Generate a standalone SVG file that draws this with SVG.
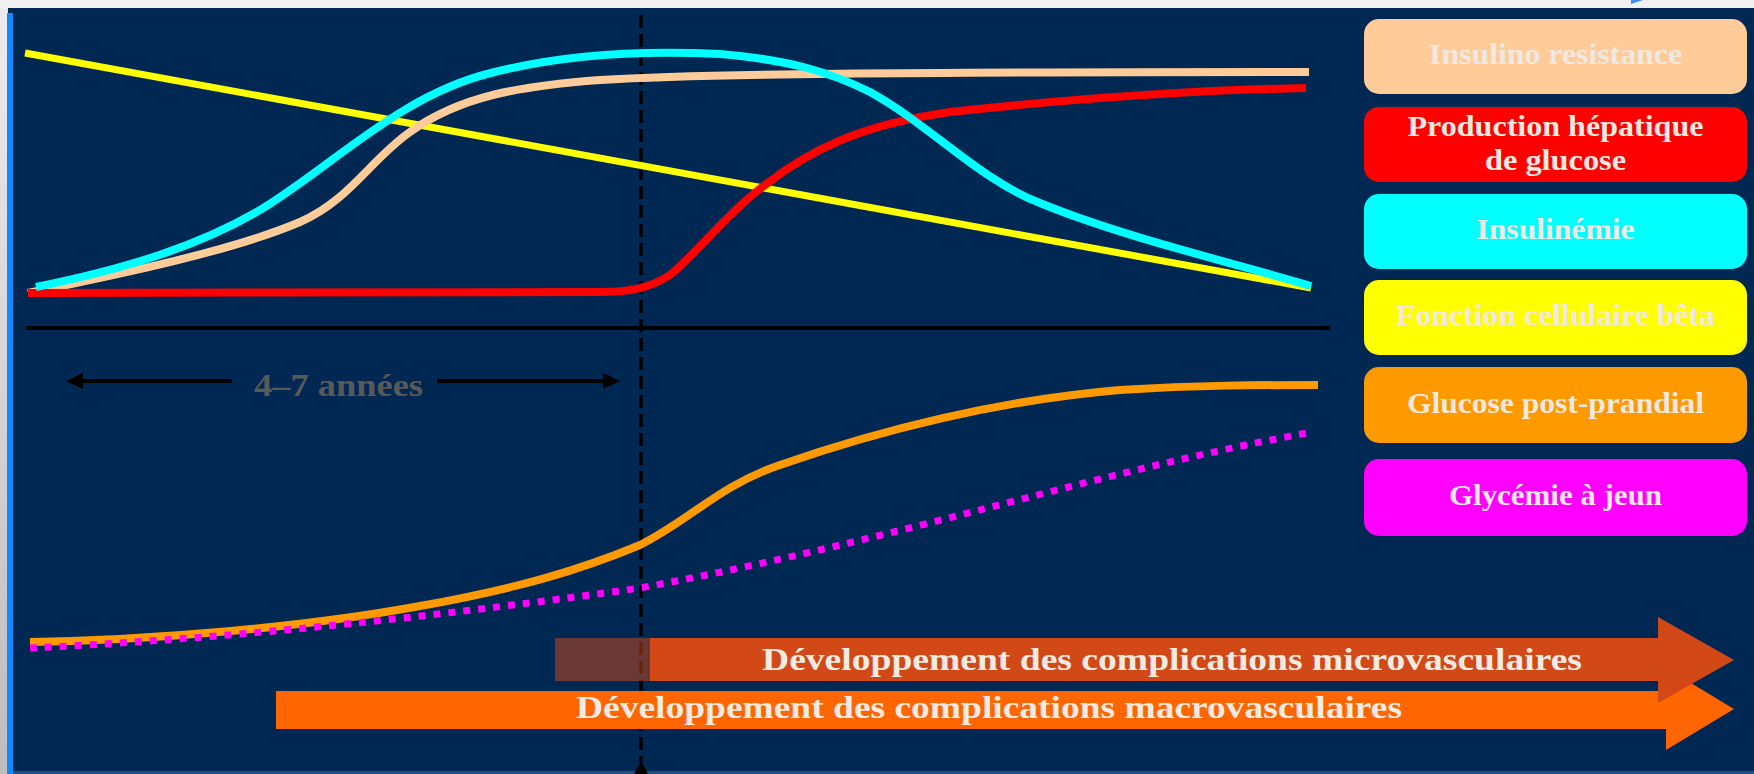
<svg xmlns="http://www.w3.org/2000/svg" width="1754" height="774" viewBox="0 0 1754 774">
<defs>
<linearGradient id="lg" x1="0" y1="0" x2="0" y2="1"><stop offset="0" stop-color="#ececec"/><stop offset="1" stop-color="#bdbdbd"/></linearGradient>
<style>
.curve{fill:none;stroke-linecap:butt;stroke-linejoin:round}
.leg{font-family:"Liberation Serif","Times New Roman",serif;font-weight:bold;font-size:30px;fill:#F0E9E1;text-anchor:middle}
.big{font-family:"Liberation Serif","Times New Roman",serif;font-weight:bold;font-size:31px;fill:#F2EBE3}
.box{stroke:none}
</style>
</defs>
<rect x="0" y="0" width="1754" height="774" fill="#f0f0f0"/>
<rect x="0" y="8" width="8" height="766" fill="url(#lg)"/>
<rect x="8" y="8" width="1746" height="766" fill="#002852"/>
<rect x="7" y="13" width="6" height="761" fill="#1289ff"/>
<rect x="13" y="771" width="1741" height="3" fill="#1d4f82"/>
<polygon points="1631,0 1643,0 1631,4" fill="#3a8ef2"/>

<g id="axis">
<line x1="26" y1="328" x2="1330" y2="328" stroke="#000" stroke-width="4"/>
<line x1="641" y1="15" x2="641" y2="762" stroke="#000" stroke-width="3.5" stroke-dasharray="13 6"/>
<polygon points="641,761 634,774 648,774" fill="#000"/>
</g>

<g id="curves">
<path id="yellow" class="curve" d="M25,53 L1311,288" stroke="#FFFF00" stroke-width="7"/>
<path id="peach" class="curve" d="M28,293 C110,276 230,252 300,222 C350,200 370,160 410,132 C460,96 520,86 600,80 C700,74 900,72 1309,72" stroke="#FFCC99" stroke-width="8"/>
<path id="red" class="curve" d="M28,293 L600,292 C630,292 650,288 670,275 C695,255 728,212 765,185 C810,150 860,125 950,112 C1080,98 1200,90 1306,88" stroke="#FF0000" stroke-width="8"/>
<path id="cyan" class="curve" d="M36,287 C130,268 200,245 260,210 C330,168 400,95 491,73 C560,55 640,50 720,54 C790,60 830,72 870,92 C930,125 980,180 1040,203 C1120,236 1230,262 1311,286" stroke="#00FFFF" stroke-width="8"/>
<path id="orange" class="curve" d="M30,642 C150,640 300,628 420,606 C520,588 580,570 640,545 C690,520 720,485 780,465 C880,430 1000,400 1120,390 C1200,385 1260,385 1318,385" stroke="#FF9900" stroke-width="8"/>
<path id="magenta" class="curve" d="M30,648 C200,640 400,622 640,588 C900,540 1100,470 1313,432" stroke="#FF00FF" stroke-width="7" stroke-dasharray="7 8"/>
</g>

<g id="duration">
<line x1="80" y1="381" x2="232" y2="381" stroke="#000" stroke-width="4"/>
<line x1="437" y1="381" x2="606" y2="381" stroke="#000" stroke-width="4"/>
<polygon points="66,381 83,373 83,389" fill="#000"/>
<polygon points="620,381 603,373 603,389" fill="#000"/>
<text x="254" y="396" class="big" fill="#595959" style="fill:#595959" textLength="169" lengthAdjust="spacingAndGlyphs">4–7 années</text>
</g>

<g id="macro">
<polygon points="276,691 1666,691 1666,668 1734,709 1666,750 1666,729 276,729" fill="#FF6600"/>
<text x="576" y="718" class="big" textLength="826" lengthAdjust="spacingAndGlyphs">Développement des complications macrovasculaires</text>
</g>
<g id="micro">
<rect x="555" y="638" width="95" height="43" fill="#D34817" fill-opacity="0.5"/>
<polygon points="650,638 1658,638 1658,617 1734,660 1658,703 1658,681 650,681" fill="#D34817"/>
<text x="762" y="670" class="big" textLength="820" lengthAdjust="spacingAndGlyphs">Développement des complications microvasculaires</text>
</g>

<g id="legend-insulino-resistance">
<rect class="box" x="1364" y="19" width="383" height="75" rx="15" fill="#FFCC99"/>
<text class="leg" x="1555.5" y="64" textLength="253" lengthAdjust="spacingAndGlyphs">Insulino resistance</text>
</g>
<g id="legend-production-hepatique">
<rect class="box" x="1364" y="107" width="383" height="75" rx="15" fill="#FF0000"/>
<text class="leg" x="1555.5" y="136" textLength="296" lengthAdjust="spacingAndGlyphs">Production hépatique</text>
<text class="leg" x="1555.5" y="170" textLength="141" lengthAdjust="spacingAndGlyphs">de glucose</text>
</g>
<g id="legend-insulinemie">
<rect class="box" x="1364" y="194" width="383" height="75" rx="15" fill="#00FFFF"/>
<text class="leg" x="1555.5" y="239" textLength="158" lengthAdjust="spacingAndGlyphs">Insulinémie</text>
</g>
<g id="legend-fonction-beta">
<rect class="box" x="1364" y="280" width="383" height="75" rx="15" fill="#FFFF00"/>
<text class="leg" x="1555.5" y="325" textLength="319" lengthAdjust="spacingAndGlyphs">Fonction cellulaire bêta</text>
</g>
<g id="legend-glucose-post-prandial">
<rect class="box" x="1364" y="367" width="383" height="76" rx="15" fill="#FF9900"/>
<text class="leg" x="1555.5" y="413" textLength="297" lengthAdjust="spacingAndGlyphs">Glucose post-prandial</text>
</g>
<g id="legend-glycemie-a-jeun">
<rect class="box" x="1364" y="459" width="383" height="77" rx="15" fill="#FF00FF"/>
<text class="leg" x="1555.5" y="505" textLength="213" lengthAdjust="spacingAndGlyphs">Glycémie à jeun</text>
</g>
</svg>
